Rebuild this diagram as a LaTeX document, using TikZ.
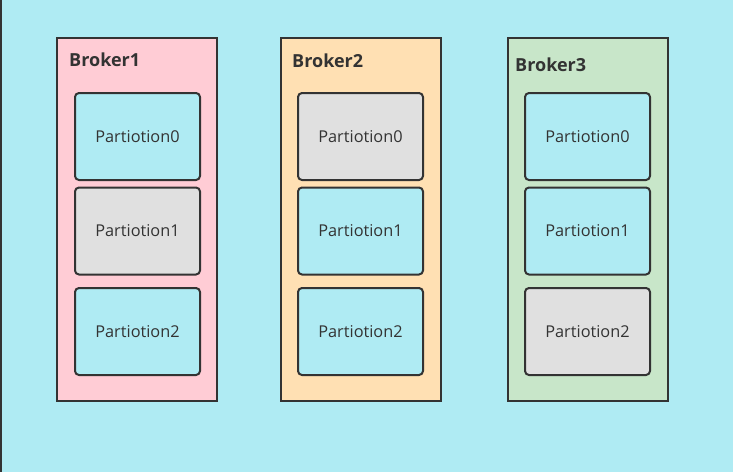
\documentclass[tikz,border=0pt]{standalone}
\usepackage{fontspec}
\setmainfont{Open Sans}
\usetikzlibrary{positioning}
\definecolor{bgcyan}{HTML}{AFEBF3}
\definecolor{edge}{HTML}{333333}
\definecolor{pinkfill}{HTML}{FFCCD5}
\definecolor{peachfill}{HTML}{FFE0B3}
\definecolor{greenfill}{HTML}{C8E6C9}
\definecolor{greyfill}{HTML}{E0E0E0}
\tikzset{
  broker/.style={draw=edge,line width=2pt,minimum width=160pt,minimum height=363pt,inner sep=0pt},
  brokername/.style={anchor=west,text=edge,font=\fontsize{18}{21}\selectfont\bfseries,inner sep=0pt},
  part/.style={draw=edge,line width=2pt,rounded corners=4pt,minimum width=125pt,minimum height=87pt,
    inner sep=0pt,text=edge,font=\fontsize{16.3}{19}\selectfont},
  leader/.style={fill=bgcyan},
  replica/.style={fill=greyfill}
}
\begin{document}
\begin{tikzpicture}
[x=1pt,y=-1pt]
\fill[bgcyan] (0,0) rectangle (733,472);
\useasboundingbox (0,0) rectangle (733,472);
\coordinate (top) at (0.75,0);
\coordinate (bottom) at (0.75,472);
\draw[edge,line width=1.5pt] (top) -- (bottom);
% broker 1
\node[broker,fill=pinkfill] (b1) at (137,219.5) {};
\node[brokername] (b1name) at (69,60) {Broker1};
\node[part,leader] (b1p0) at (137.5,136.5) {Partiotion0};
\node[part,replica] (b1p1) at (137.5,231) {Partiotion1};
\node[part,leader] (b1p2) at (137.5,331.5) {Partiotion2};
% broker 2
\node[broker,fill=peachfill] (b2) at (361,219.5) {};
\node[brokername] (b2name) at (292,61) {Broker2};
\node[part,replica] (b2p0) at (360.5,136.5) {Partiotion0};
\node[part,leader] (b2p1) at (360.5,231) {Partiotion1};
\node[part,leader] (b2p2) at (360.5,331.5) {Partiotion2};
% broker 3
\node[broker,fill=greenfill] (b3) at (588,219.5) {};
\node[brokername] (b3name) at (515,65) {Broker3};
\node[part,leader] (b3p0) at (587.5,136.5) {Partiotion0};
\node[part,leader] (b3p1) at (587.5,231) {Partiotion1};
\node[part,replica] (b3p2) at (587.5,331.5) {Partiotion2};
\end{tikzpicture}
\end{document}
